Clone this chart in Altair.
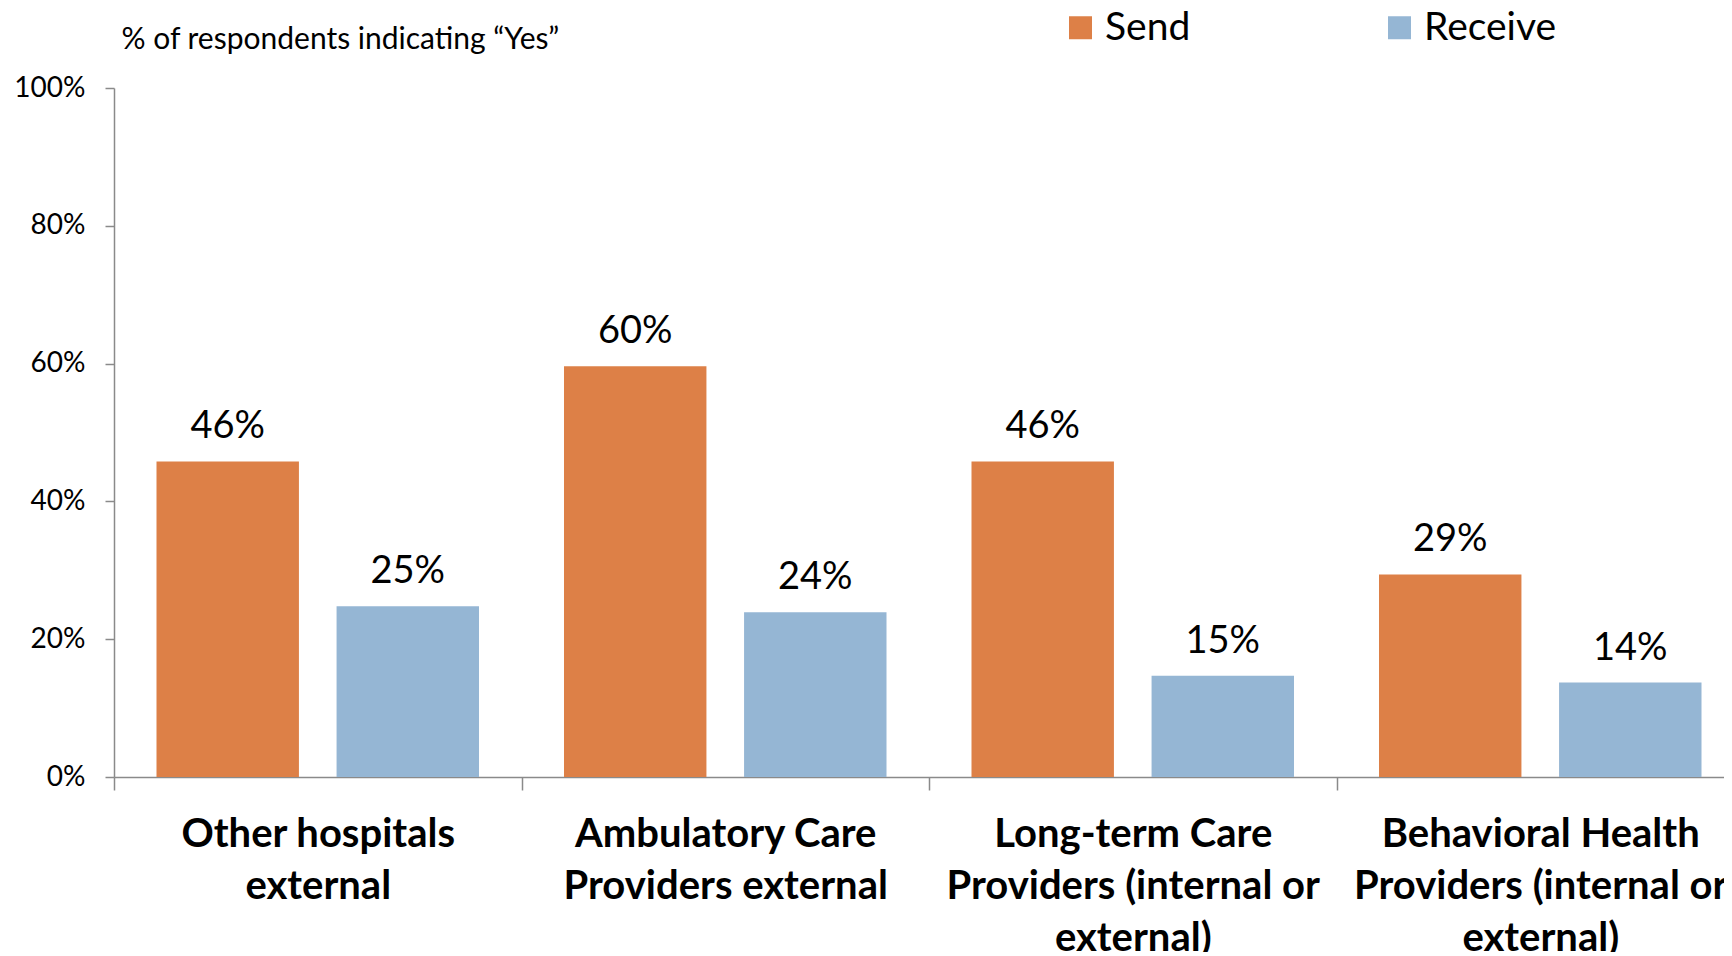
import altair as alt
import pandas as pd

categories = [
    "Other hospitals|external",
    "Ambulatory Care|Providers external",
    "Long-term Care|Providers (internal or|external)",
    "Behavioral Health|Providers (internal or|external)",
]
series = ["Send", "Receive"]
send_values = [45.8, 59.6, 45.8, 29.4]
receive_values = [24.8, 23.9, 14.7, 13.7]
y_ticks = [0, 20, 40, 60, 80, 100]
colors = ["#DD8047", "#95B6D4"]

rows = []
for i, c in enumerate(categories):
    rows.append({"category": c, "series": series[0], "value": send_values[i]})
    rows.append({"category": c, "series": series[1], "value": receive_values[i]})
df = pd.DataFrame(rows)

FONT = "Lato"
AXIS_GRAY = "#8A8A8A"

x_enc = alt.X(
    "category:N",
    sort=categories,
    scale=alt.Scale(range=[0, 1630], paddingInner=0, paddingOuter=0),
    axis=alt.Axis(
        title=None,
        labelAngle=0,
        tickBand="extent",
        labelExpr="split(datum.label, '|')",
        labelFont=FONT,
        labelFontSize=40,
        labelFontWeight="bold",
        labelColor="black",
        labelLineHeight=52,
        labelPadding=24,
        labelLimit=0,
        labelOverlap=False,
        labelFlush=False,
        labelBound=False,
        tickSize=13,
        tickColor=AXIS_GRAY,
        tickWidth=1.5,
        domainColor=AXIS_GRAY,
        domainWidth=1.5,
    ),
)
xoff_enc = alt.XOffset(
    "series:N", sort=series, scale=alt.Scale(paddingInner=0.209, paddingOuter=0.236)
)
y_enc = alt.Y(
    "value:Q",
    scale=alt.Scale(domain=[0, 100]),
    axis=alt.Axis(
        values=y_ticks,
        labelExpr="datum.value + '%'",
        grid=False,
        labelFont=FONT,
        labelFontSize=28,
        labelColor="black",
        labelPadding=20,
        tickSize=9,
        tickColor=AXIS_GRAY,
        tickWidth=1.5,
        domainColor=AXIS_GRAY,
        domainWidth=1.5,
        title="% of respondents indicating \u201cYes\u201d",
        titleAngle=0,
        titleAlign="left",
        titleBaseline="middle",
        titleX=7,
        titleY=-49,
        titleFont=FONT,
        titleFontSize=30,
        titleFontWeight="normal",
        titleColor="black",
    ),
)

bars = alt.Chart(df).mark_bar().encode(
    x=x_enc,
    xOffset=xoff_enc,
    y=y_enc,
    color=alt.Color(
        "series:N",
        sort=series,
        scale=alt.Scale(domain=series, range=colors),
        legend=alt.Legend(
            title=None,
            orient="none",
            legendX=947,
            legendY=-80,
            direction="horizontal",
            symbolType="square",
            symbolSize=529,
            symbolStrokeWidth=0,
            labelFont=FONT,
            labelFontSize=39,
            labelColor="black",
            labelOffset=5,
            columnPadding=189,
            padding=0,
        ),
    ),
)

labels = (
    alt.Chart(df)
    .transform_calculate(label="format(datum.value, '.0f') + '%'")
    .mark_text(baseline="alphabetic", dy=-23, fontSize=38, font=FONT, color="black")
    .encode(x=x_enc, xOffset=xoff_enc, y=y_enc, text="label:N")
)

chart = (
    alt.layer(bars, labels)
    .properties(
        width=1610,
        height=689,
        autosize=alt.AutoSizeParams(type="none"),
        padding={"left": 106, "top": 80, "right": 0, "bottom": 175},
        view=alt.ViewBackground(stroke="transparent", strokeWidth=0),
    )
    .configure_view(strokeWidth=0, stroke="transparent")
    .configure(background="white", style={"cell": {"stroke": "transparent", "strokeWidth": 0}})
)

chart.save("out.html", embed_options={"renderer": "svg", "actions": False})
